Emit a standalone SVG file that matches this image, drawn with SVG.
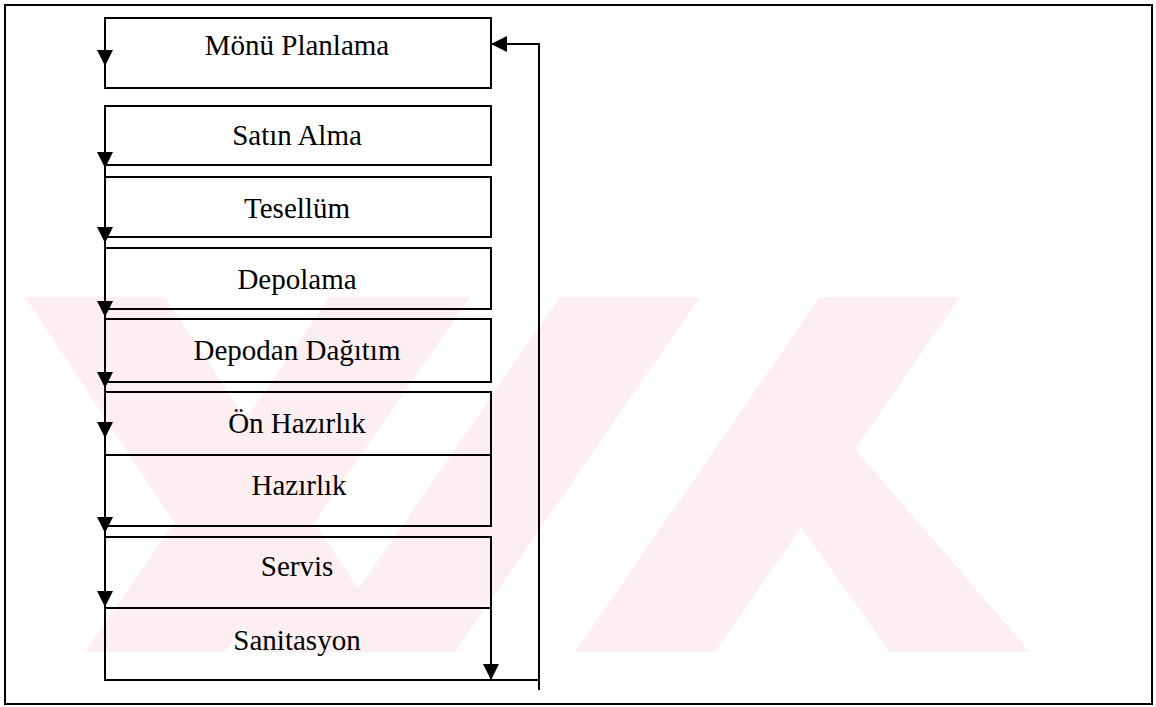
<svg xmlns="http://www.w3.org/2000/svg" width="1156" height="707" viewBox="0 0 1156 707">
  <defs>
    <marker id="ah" viewBox="0 0 16 16" refX="16" refY="8" markerWidth="16" markerHeight="16" markerUnits="userSpaceOnUse" orient="auto">
      <path d="M0,0 L16,8 L0,16 z" fill="#000"/>
    </marker>
  </defs>
  <style>
    .frame { fill: none; stroke: #000; stroke-width: 2; }
    .box { fill: none; stroke: #000; stroke-width: 2; }
    .lbl { font-family: "Liberation Serif", "Times New Roman", serif; font-size: 29px; fill: #000; text-anchor: middle; }
    .wire { fill: none; stroke: #000; stroke-width: 2; }
    .mark { fill: #fdeef1; }
  </style>
  <rect width="1156" height="707" fill="#fff"/>

  <!-- faint background emblem -->
  <g id="emblem">
    <polygon class="mark" points="25,297 165,297 400,652 260,652"/>
    <polygon class="mark" points="330,297 470,297 225,652 85,652"/>
    <polygon class="mark" points="560,297 700,297 455,652 315,652"/>
    <polygon class="mark" points="820,297 960,297 715,652 575,652"/>
    <polygon class="mark" points="760,470 830,420 1030,652 890,652"/>
  </g>

  <rect class="frame" x="5" y="5" width="1147" height="699"/>

  <g id="node-menu"><rect class="box" x="105" y="18" width="386" height="70"/><text class="lbl" x="297" y="55">Mönü Planlama</text></g>
  <g id="node-satin"><rect class="box" x="105" y="106" width="386" height="59"/><text class="lbl" x="297" y="145">Satın Alma</text></g>
  <g id="node-tesellum"><rect class="box" x="105" y="177" width="386" height="60"/><text class="lbl" x="297" y="218">Tesellüm</text></g>
  <g id="node-depolama"><rect class="box" x="105" y="248" width="386" height="61"/><text class="lbl" x="297" y="289">Depolama</text></g>
  <g id="node-dagitim"><rect class="box" x="105" y="319" width="386" height="63"/><text class="lbl" x="297" y="360">Depodan Dağıtım</text></g>
  <g id="node-onhazirlik"><rect class="box" x="105" y="392" width="386" height="63"/><text class="lbl" x="297" y="433">Ön Hazırlık</text></g>
  <g id="node-hazirlik"><rect class="box" x="105" y="455" width="386" height="71"/><text class="lbl" x="299" y="495">Hazırlık</text></g>
  <g id="node-servis"><rect class="box" x="105" y="537" width="386" height="71"/><text class="lbl" x="297" y="576">Servis</text></g>
  <g id="node-sanitasyon"><rect class="box" x="105" y="608" width="386" height="72"/><text class="lbl" x="297" y="650">Sanitasyon</text></g>

  <g id="connectors">
    <path class="wire" d="M105,106 L105,680"/>
    <path class="wire" d="M105,40 L105,66" marker-end="url(#ah)"/>
    <path class="wire" d="M105,140 L105,168" marker-end="url(#ah)"/>
    <path class="wire" d="M105,215 L105,243" marker-end="url(#ah)"/>
    <path class="wire" d="M105,290 L105,317" marker-end="url(#ah)"/>
    <path class="wire" d="M105,360 L105,388" marker-end="url(#ah)"/>
    <path class="wire" d="M105,410 L105,438" marker-end="url(#ah)"/>
    <path class="wire" d="M105,505 L105,533" marker-end="url(#ah)"/>
    <path class="wire" d="M105,580 L105,607" marker-end="url(#ah)"/>
    <path class="wire" d="M491,650 L491,680" marker-end="url(#ah)"/>
    <path class="wire" d="M491,680 L539,680"/>
    <path class="wire" d="M539,690 L539,44 L491,44" marker-end="url(#ah)"/>
  </g>
</svg>
